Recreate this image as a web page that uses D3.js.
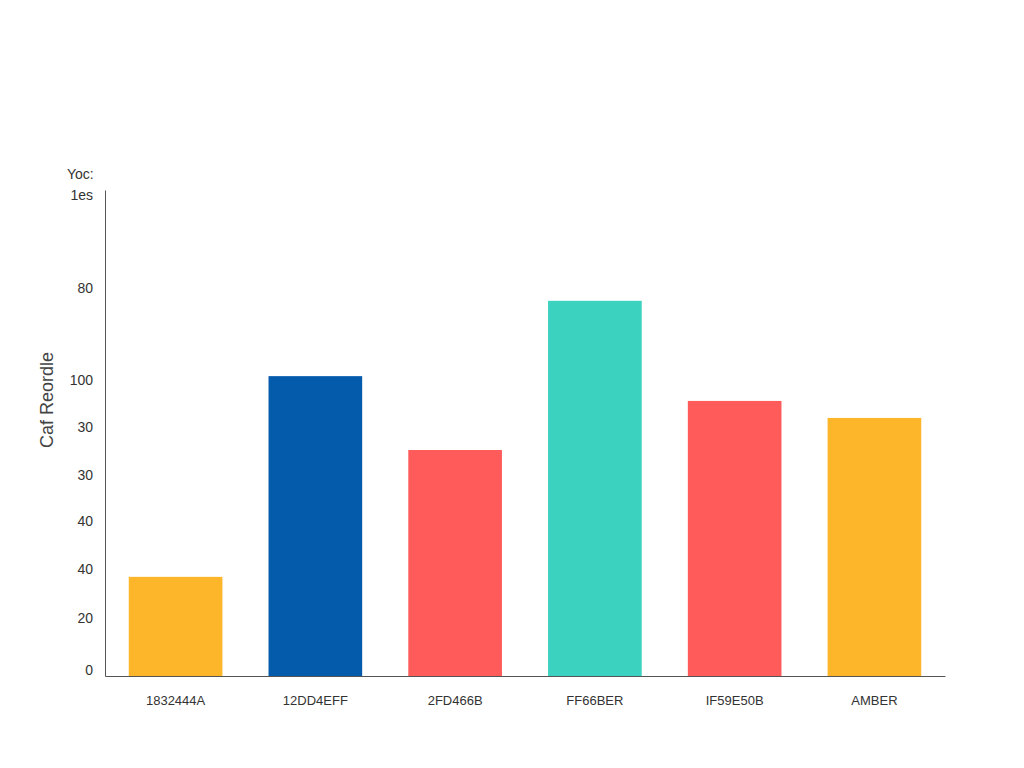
<!DOCTYPE html>
<html><head><meta charset="utf-8">
<script src="https://cdn.jsdelivr.net/npm/d3@7"></script>
<style>body{margin:0;background:#fff;font-family:"Liberation Sans",Arial,sans-serif}</style>
</head><body><div id="chart"></div>
<script>
// data
var categories = ["1832444A", "12DD4EFF", "2FD466B", "FF66BER", "IF59E50B", "AMBER"];
var values = [20.4, 61.7, 46.5, 77.2, 56.6, 53.1];
var colors = ["#FDB52A", "#045AAB", "#FF5B5B", "#3BD2C0", "#FF5B5B", "#FDB52A"];
var tickValues = [1.2, 11.9, 22, 31.9, 41.4, 51.2, 60.9, 79.8, 99];
var tickLabels = ["0", "20", "40", "40", "30", "30", "100", "80", "1es"];

var width = 1024, height = 768;
var svg = d3.select("#chart").append("svg").attr("width", width).attr("height", height);

var xScale = d3.scaleBand().domain(categories).range([105, 945]).paddingInner(0.33).paddingOuter(0.17);
var yScale = d3.scaleLinear().domain([0, 100]).range([676, 190]);

svg.selectAll("rect.bar").data(values).enter().append("rect")
  .attr("class", "bar")
  .attr("x", function(d, i) { return xScale(categories[i]); })
  .attr("width", xScale.bandwidth())
  .attr("y", function(d) { return yScale(d); })
  .attr("height", function(d) { return yScale(0) - yScale(d); })
  .attr("fill", function(d, i) { return colors[i]; });

var yAxis = d3.axisLeft(yScale).tickValues(tickValues).tickSize(0).tickPadding(12)
  .tickFormat(function(d, i) { return tickLabels[i]; });
var yAxisG = svg.append("g").attr("transform", "translate(105,0)").call(yAxis);
yAxisG.select(".domain").attr("stroke", "#555");
yAxisG.selectAll("text").attr("font-size", 14).attr("fill", "#333").attr("font-family", "Liberation Sans");

var xAxis = d3.axisBottom(xScale).tickSize(0).tickPadding(20);
var xAxisG = svg.append("g").attr("transform", "translate(0,676)").call(xAxis);
xAxisG.select(".domain").attr("stroke", "#555");
xAxisG.selectAll("text").attr("font-size", 13).attr("fill", "#333").attr("font-family", "Liberation Sans");

svg.append("text").attr("x", 67).attr("y", 179).attr("font-size", 14).attr("fill", "#333").text("Yoc:");
svg.append("text").attr("transform", "translate(53,400) rotate(-90)")
  .attr("text-anchor", "middle").attr("font-size", 18).attr("fill", "#444").text("Caf Reordle");
</script></body></html>
